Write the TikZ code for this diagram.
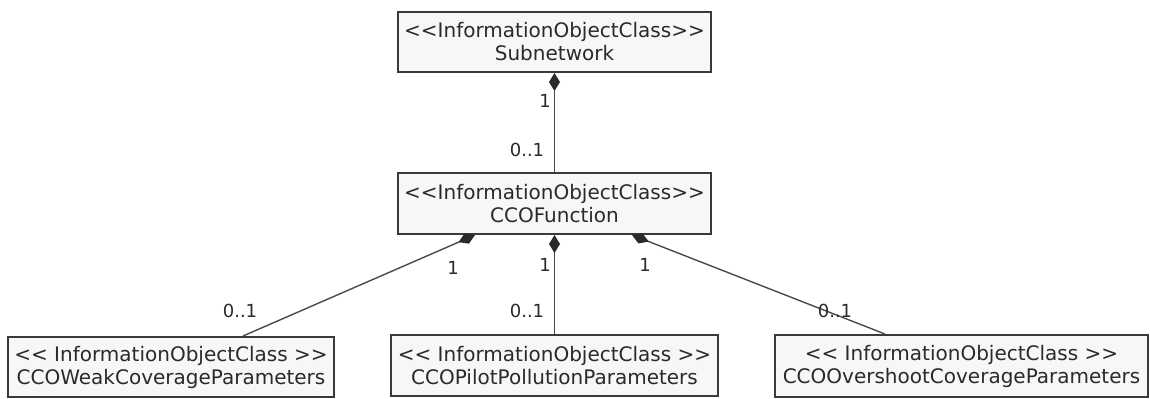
\documentclass[tikz,border=0pt]{standalone}
\usepackage{fontspec}
\setmainfont{DejaVu Sans}
\usetikzlibrary{arrows.meta}
\definecolor{boxfill}{HTML}{F7F7F7}
\definecolor{boxline}{HTML}{3A3A3A}
\definecolor{conn}{HTML}{4A4A4A}
\definecolor{txt}{HTML}{2A2A2A}
\begin{document}
\begin{tikzpicture}[x=0.5pt,y=-0.5pt,
  cls/.style={draw=boxline,line width=1pt,fill=boxfill,inner sep=0pt,align=center,
    font=\fontsize{10}{11.5}\selectfont,text=txt},
  assoc/.style={draw=conn,line width=0.7pt,{Diamond[length=9pt,width=5.5pt,fill=txt,color=txt]}-},
  mult/.style={font=\fontsize{9}{10}\selectfont,text=txt,inner sep=0pt}]
\useasboundingbox (0,0) rectangle (1150,398);
\node[cls,minimum width=156.5pt,minimum height=30pt] (sub) at (554.5,42) {<{}<InformationObjectClass>{}>\\Subnetwork};
\node[cls,minimum width=156.5pt,minimum height=30.5pt] (cco) at (554.5,203.5) {<{}<InformationObjectClass>{}>\\CCOFunction};
\node[cls,minimum width=163pt,minimum height=30pt] (weak) at (171,367) {<{}< InformationObjectClass >{}>\\CCOWeakCoverageParameters};
\node[cls,minimum width=163.5pt,minimum height=30.5pt] (pilot) at (554.5,365.5) {<{}< InformationObjectClass >{}>\\CCOPilotPollutionParameters};
\node[cls,minimum width=186.5pt,minimum height=31pt] (over) at (961.5,366) {<{}< InformationObjectClass >{}>\\CCOOvershootCoverageParameters};

\draw[assoc] (sub.south) -- (cco.north);
\draw[assoc] ([xshift=-39.75pt]cco.south) -- ([xshift=36pt]weak.north);
\draw[assoc] (cco.south) -- (pilot.north);
\draw[assoc] ([xshift=38.75pt]cco.south) -- ([xshift=-38.25pt]over.north);

\node[mult] (m1) at (545,101) {1};
\node[mult] (m2) at (527,150) {0..1};
\node[mult] (m3) at (453,268) {1};
\node[mult] (m4) at (240,311) {0..1};
\node[mult] (m5) at (545,265) {1};
\node[mult] (m6) at (527,311) {0..1};
\node[mult] (m7) at (645,265) {1};
\node[mult] (m8) at (835,311) {0..1};
\end{tikzpicture}
\end{document}
